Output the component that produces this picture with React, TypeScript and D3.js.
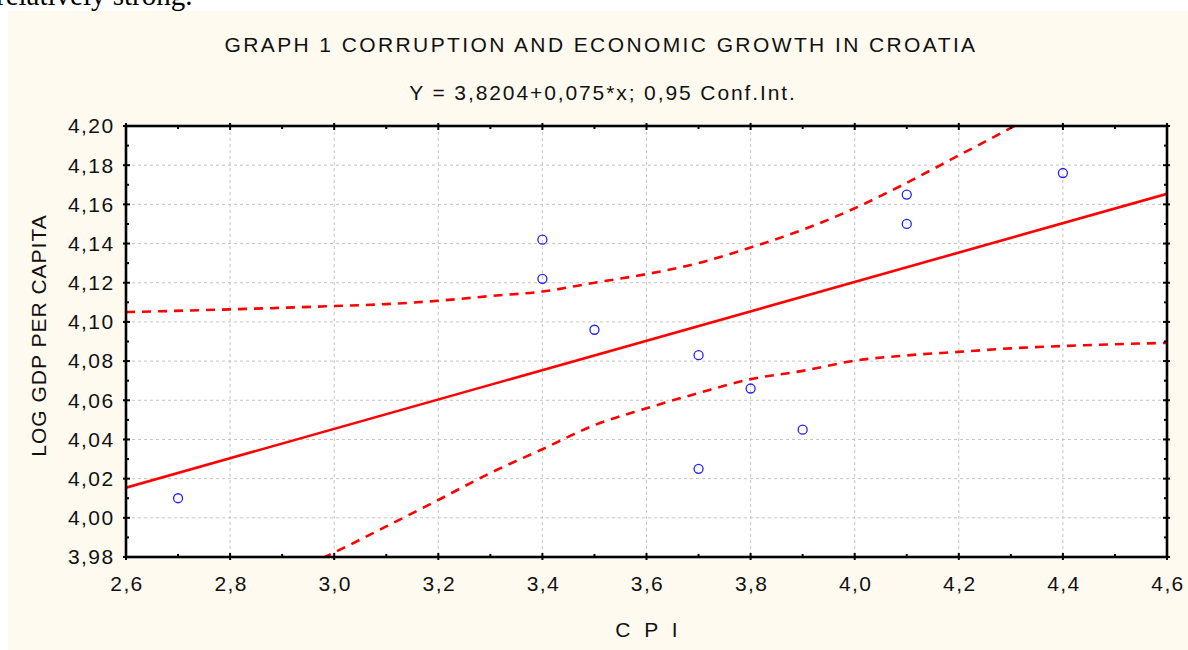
import React from 'react';
import * as d3 from 'd3';

// observations: CPI vs log GDP per capita
const cpi = [2.7, 3.4, 3.4, 3.5, 3.7, 3.7, 3.8, 3.9, 4.1, 4.1, 4.4];
const logGdp = [4.010, 4.142, 4.122, 4.096, 4.083, 4.025, 4.066, 4.045, 4.165, 4.150, 4.176];

// fitted line end points (Y = 3,8204 + 0,075*x)
const fitX = [2.6, 4.6];
const fitY = [4.0154, 4.1654];

// 0,95 confidence band
const upperX = [2.6, 2.8, 3.0, 3.1, 3.2, 3.3, 3.4, 3.5, 3.6, 3.7, 3.8, 3.9, 4.0, 4.1, 4.2, 4.3, 4.4];
const upperY = [4.105, 4.1064, 4.1081, 4.1091, 4.1108, 4.1132, 4.1155, 4.12, 4.1244, 4.130, 4.138, 4.147, 4.158, 4.171, 4.185, 4.199, 4.214];
const lowerX = [2.95, 3.0, 3.1, 3.2, 3.3, 3.4, 3.5, 3.6, 3.7, 3.8, 3.9, 4.0, 4.1, 4.2, 4.3, 4.4, 4.5, 4.6];
const lowerY = [3.976, 3.9823, 3.9956, 4.0091, 4.0229, 4.035, 4.0473, 4.0559, 4.0637, 4.0708, 4.075, 4.0802, 4.0829, 4.0847, 4.0865, 4.0877, 4.0886, 4.0893];

const xTicks = [2.6, 2.8, 3.0, 3.2, 3.4, 3.6, 3.8, 4.0, 4.2, 4.4, 4.6];
const yTicks = [3.98, 4.0, 4.02, 4.04, 4.06, 4.08, 4.1, 4.12, 4.14, 4.16, 4.18, 4.2];

const title = 'GRAPH 1 CORRUPTION AND ECONOMIC GROWTH IN CROATIA';
const subtitle = 'Y = 3,8204+0,075*x; 0,95 Conf.Int.';
const xLabel = 'C P I';
const yLabel = 'LOG GDP PER CAPITA';

const W = 1188, H = 650;
const m = { left: 126, right: 1167, top: 126, bottom: 557 };
const font = '"Liberation Sans", Arial, sans-serif';

export default function App() {
  const x = d3.scaleLinear().domain([2.6, 4.6]).range([m.left, m.right]);
  const y = d3.scaleLinear().domain([3.98, 4.2]).range([m.bottom, m.top]);

  const fmtX = (v: number) => v.toFixed(1).replace('.', ',');
  const fmtY = (v: number) => v.toFixed(2).replace('.', ',');

  const line = d3.line<[number, number]>()
    .x(d => x(d[0]))
    .y(d => y(d[1]))
    .curve(d3.curveMonotoneX);

  const fitPath = line(fitX.map((v, i) => [v, fitY[i]]) as [number, number][]);
  const upperPath = line(upperX.map((v, i) => [v, upperY[i]]) as [number, number][]);
  const lowerPath = line(lowerX.map((v, i) => [v, lowerY[i]]) as [number, number][]);

  const xMinor = d3.range(2.7, 4.6, 0.2);
  const yMinor = d3.range(3.99, 4.2, 0.02);

  return (
    <svg width={W} height={H} style={{ position: 'absolute', left: 0, top: 0 }}>
      <text x={-4} y={5} fontFamily='"Liberation Serif", "Times New Roman", serif' fontSize={29} fill="#000">
        relatively strong.
      </text>
      <rect x={8} y={11} width={W - 8} height={H - 11} fill="#fefaf0" />

      <text x={601} y={52} textAnchor="middle" fontFamily={font} fontSize={21} letterSpacing={2.4} fill="#111">{title}</text>
      <text x={603} y={100} textAnchor="middle" fontFamily={font} fontSize={21} letterSpacing={1.9} fill="#111">{subtitle}</text>

      <rect x={m.left} y={m.top} width={m.right - m.left} height={m.bottom - m.top} fill="#fff" />

      <defs>
        <clipPath id="plot">
          <rect x={m.left} y={m.top} width={m.right - m.left} height={m.bottom - m.top} />
        </clipPath>
      </defs>

      {/* grid */}
      <g stroke="#c4c4c4" strokeWidth={1} strokeDasharray="3,3">
        {xTicks.slice(1, -1).map(t => (
          <line key={'gx' + t} x1={x(t)} x2={x(t)} y1={m.top} y2={m.bottom} />
        ))}
        {yTicks.slice(1, -1).map(t => (
          <line key={'gy' + t} x1={m.left} x2={m.right} y1={y(t)} y2={y(t)} />
        ))}
      </g>

      <g clipPath="url(#plot)" fill="none" stroke="#ff0000">
        <path d={upperPath || ''} strokeWidth={2.6} strokeDasharray="9,7" />
        <path d={lowerPath || ''} strokeWidth={2.6} strokeDasharray="9,7" />
        <path d={fitPath || ''} strokeWidth={2.6} />
      </g>

      <g fill="none" stroke="#2020ff" strokeWidth={1.3}>
        {cpi.map((c, i) => (
          <circle key={i} cx={x(c)} cy={y(logGdp[i])} r={4.5} />
        ))}
      </g>

      {/* frame and ticks */}
      <g stroke="#000">
        <rect x={m.left} y={m.top} width={m.right - m.left} height={m.bottom - m.top} fill="none" strokeWidth={2.6} />
        {xTicks.map(t => (
          <g key={'tx' + t} strokeWidth={2}>
            <line x1={x(t)} x2={x(t)} y1={m.bottom + 3} y2={m.bottom - 4} />
            <line x1={x(t)} x2={x(t)} y1={m.top - 3} y2={m.top + 4} />
          </g>
        ))}
        {xMinor.map(t => (
          <g key={'mx' + t} strokeWidth={2}>
            <line x1={x(t)} x2={x(t)} y1={m.bottom} y2={m.bottom - 3} />
            <line x1={x(t)} x2={x(t)} y1={m.top} y2={m.top + 3} />
          </g>
        ))}
        {yTicks.map(t => (
          <g key={'ty' + t} strokeWidth={2}>
            <line x1={m.left - 3} x2={m.left + 4} y1={y(t)} y2={y(t)} />
            <line x1={m.right + 3} x2={m.right - 4} y1={y(t)} y2={y(t)} />
          </g>
        ))}
        {yMinor.map(t => (
          <g key={'my' + t} strokeWidth={2}>
            <line x1={m.left} x2={m.left + 3} y1={y(t)} y2={y(t)} />
            <line x1={m.right} x2={m.right - 3} y1={y(t)} y2={y(t)} />
          </g>
        ))}
      </g>

      {/* tick labels */}
      <g fontFamily={font} fontSize={21} letterSpacing={1.4} fill="#111">
        {xTicks.map(t => (
          <text key={'lx' + t} x={x(t) + 1} y={591} textAnchor="middle">{fmtX(t)}</text>
        ))}
        {yTicks.map(t => (
          <text key={'ly' + t} x={114.5} y={y(t)} dy="0.35em" textAnchor="end">{fmtY(t)}</text>
        ))}
      </g>

      <text x={(m.left + m.right) / 2 + 2} y={637} textAnchor="middle" fontFamily={font} fontSize={21} letterSpacing={4} fill="#111">{xLabel}</text>
      <text transform={`translate(46, ${(m.top + m.bottom) / 2 - 6}) rotate(-90)`} textAnchor="middle"
        fontFamily={font} fontSize={21} letterSpacing={1} fill="#111">{yLabel}</text>
    </svg>
  );
}
